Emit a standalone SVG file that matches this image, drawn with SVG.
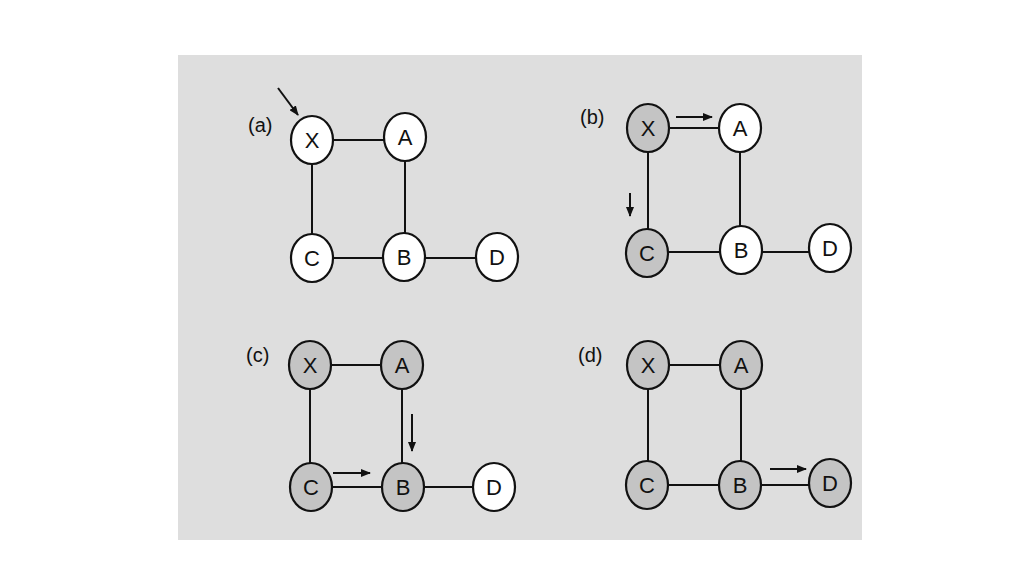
<svg xmlns="http://www.w3.org/2000/svg" width="1024" height="576" viewBox="0 0 1024 576">
<style>
.n{fill:#fff;stroke:#111;stroke-width:2.2}
.s{fill:#c4c4c4}
.e{stroke:#111;stroke-width:2;fill:none}
.a{stroke:#111;stroke-width:2;fill:none;marker-end:url(#ah)}
text{font-family:"Liberation Sans",Arial,sans-serif;fill:#111}
.t{font-size:22px;text-anchor:middle;dominant-baseline:central}
.l{font-size:20px}
</style>
<defs><marker id="ah" markerWidth="10" markerHeight="8" refX="9" refY="4" orient="auto" markerUnits="userSpaceOnUse"><path d="M0,0L10,4L0,8z" fill="#111"/></marker></defs>
<rect width="1024" height="576" fill="#fff"/>
<rect x="178" y="55" width="684" height="485" fill="#dedede"/>
<g id="connectors">
<path class="e" d="M312,140H405M312,140V258M405,137V257M312,258H497"/>
<path class="e" d="M648,128H740M648,128V253M740,128V250M647,252H830"/>
<path class="e" d="M310,365H402M310,365V487M402,365V487M311,487H494"/>
<path class="e" d="M648,365H741M648,365V485M741,365V485M647,485H830"/>
<path class="a" d="M278,88L298,115"/>
<path class="a" d="M676,117H712"/><path class="a" d="M630,193V216"/>
<path class="a" d="M412,414V451"/><path class="a" d="M333,473H370"/>
<path class="a" d="M770,469H806"/>
</g>
<text class="l" x="248" y="132">(a)</text>
<text class="l" x="580" y="124">(b)</text>
<text class="l" x="246" y="362">(c)</text>
<text class="l" x="578" y="362">(d)</text>
<g id="aX"><ellipse class="n" cx="312" cy="140" rx="21" ry="24"/><text class="t" x="312" y="140">X</text></g>
<g id="aA"><ellipse class="n" cx="405" cy="137" rx="21" ry="24"/><text class="t" x="405" y="137">A</text></g>
<g id="aC"><ellipse class="n" cx="312" cy="258" rx="21" ry="24"/><text class="t" x="312" y="258">C</text></g>
<g id="aB"><ellipse class="n" cx="404" cy="257" rx="21" ry="24"/><text class="t" x="404" y="257">B</text></g>
<g id="aD"><ellipse class="n" cx="497" cy="257" rx="21" ry="24"/><text class="t" x="497" y="257">D</text></g>
<g id="bX"><ellipse class="n s" cx="648" cy="128" rx="21" ry="24"/><text class="t" x="648" y="128">X</text></g>
<g id="bA"><ellipse class="n" cx="740" cy="128" rx="21" ry="24"/><text class="t" x="740" y="128">A</text></g>
<g id="bC"><ellipse class="n s" cx="647" cy="253" rx="21" ry="24"/><text class="t" x="647" y="253">C</text></g>
<g id="bB"><ellipse class="n" cx="741" cy="250" rx="21" ry="24"/><text class="t" x="741" y="250">B</text></g>
<g id="bD"><ellipse class="n" cx="830" cy="248" rx="21" ry="24"/><text class="t" x="830" y="248">D</text></g>
<g id="cX"><ellipse class="n s" cx="310" cy="365" rx="21" ry="24"/><text class="t" x="310" y="365">X</text></g>
<g id="cA"><ellipse class="n s" cx="402" cy="365" rx="21" ry="24"/><text class="t" x="402" y="365">A</text></g>
<g id="cC"><ellipse class="n s" cx="311" cy="487" rx="21" ry="24"/><text class="t" x="311" y="487">C</text></g>
<g id="cB"><ellipse class="n s" cx="403" cy="487" rx="21" ry="24"/><text class="t" x="403" y="487">B</text></g>
<g id="cD"><ellipse class="n" cx="494" cy="487" rx="21" ry="24"/><text class="t" x="494" y="487">D</text></g>
<g id="dX"><ellipse class="n s" cx="648" cy="365" rx="21" ry="24"/><text class="t" x="648" y="365">X</text></g>
<g id="dA"><ellipse class="n s" cx="741" cy="365" rx="21" ry="24"/><text class="t" x="741" y="365">A</text></g>
<g id="dC"><ellipse class="n s" cx="647" cy="485" rx="21" ry="24"/><text class="t" x="647" y="485">C</text></g>
<g id="dB"><ellipse class="n s" cx="740" cy="485" rx="21" ry="24"/><text class="t" x="740" y="485">B</text></g>
<g id="dD"><ellipse class="n s" cx="830" cy="483" rx="21" ry="24"/><text class="t" x="830" y="483">D</text></g>
</svg>
